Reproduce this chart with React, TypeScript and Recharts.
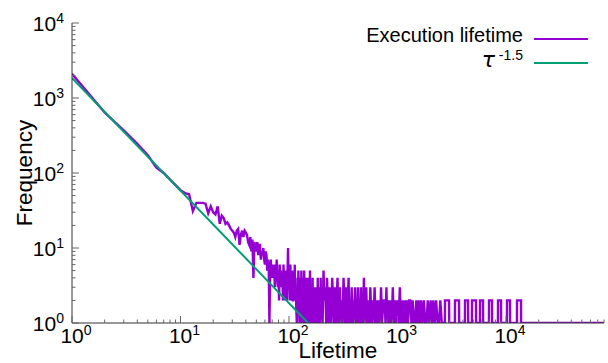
import React from 'react';
import { LineChart, Line, XAxis, YAxis } from 'recharts';

// ---- data: execution lifetime histogram (lifetime -> frequency) ----
const headLifetimes = [1, 2, 3, 4, 5, 6, 7, 8, 9, 10, 11, 12];
const headCounts = [2100, 640, 370, 245, 172, 118, 100, 82, 69, 59, 54, 52];

const midLifetimes = [
  13, 14, 15, 16, 17, 18, 19, 20, 21, 22, 23, 24, 25, 26, 27, 28, 29, 30, 31, 32,
  33, 34, 35, 36, 37, 38, 39, 40, 41, 42, 43, 44, 45, 46, 47, 48, 49, 50, 51, 52,
  53, 54, 55, 56, 57, 58, 59, 60, 61, 62, 63, 64, 65, 66, 67, 68, 69, 70, 71, 72,
  73, 74, 75, 76, 77, 78, 79, 80, 81, 82, 83, 84, 85, 86, 87, 88, 89, 90, 91, 92,
  93, 94, 95, 96, 97, 98, 99, 100,
];
const midCounts = [
  31, 40, 40, 40, 39, 29, 36, 30, 28, 36, 21, 27, 25, 21, 22, 20, 18, 17, 16, 14,
  17, 18, 11, 15, 17, 14, 17, 16, 15, 12, 11, 14, 9, 13, 4, 12, 10, 9, 12, 8,
  11, 11, 7, 9, 8, 10, 7, 6, 9, 8, 5, 7, 6, 1, 5, 7, 4, 6, 5, 4,
  6, 3, 5, 4, 7, 4, 3, 5, 2, 6, 4, 3, 5, 3, 4, 2, 6, 3, 4, 2,
  5, 3, 4, 2, 5, 10, 4, 3,
];

const tailLifetimes = [
  101, 102, 103, 104, 105, 106, 107, 108, 109, 110, 111, 112, 113, 114, 115, 116, 118,
  119, 120, 121, 122, 123, 124, 125, 126, 127, 128, 129, 130, 131, 132, 133, 134, 135,
  136, 137, 138, 139, 140, 141, 142, 143, 144, 145, 146, 147, 148, 149, 150, 152, 153,
  155, 156, 158, 159, 161, 162, 164, 165, 167, 168, 170, 171, 173, 175, 176, 178, 179,
  181, 182, 184, 185, 187, 188, 190, 191, 193, 194, 196, 197, 199, 200,
  204, 208, 212, 216, 220, 224, 228, 232, 236, 240, 245, 250, 255, 260, 265, 270, 275,
  280, 285, 290, 295, 300, 306, 312, 318, 324, 330, 336, 342, 348, 354, 360, 366, 372,
  378, 384, 390, 396, 402, 408, 414, 420, 427, 434, 441, 448, 455, 462, 469, 476, 483,
  490, 497,
  505, 515, 525, 537, 550, 562, 575, 588, 600, 615, 630, 645, 660, 675, 690, 705, 720,
  740, 760, 775, 790, 805, 825, 845, 865, 885, 905, 925, 950, 975, 1000, 1025, 1050,
  1075, 1100,
];
const tailCounts = [
  4, 2, 6, 2, 3, 2, 5, 2, 2, 3, 4, 2, 6, 2, 3, 2, 1,
  2, 4, 2, 5, 2, 2, 1, 4, 2, 3, 1, 5, 2, 2, 1, 4, 2,
  3, 1, 5, 2, 2, 1, 3, 1, 4, 2, 3, 1, 2, 1, 4, 1, 2,
  1, 5, 1, 3, 1, 2, 1, 4, 1, 2, 1, 3, 1, 2, 1, 3, 1,
  2, 1, 4, 1, 1, 2, 3, 1, 2, 1, 4, 1, 2, 1,
  1, 5, 2, 3, 1, 4, 2, 1, 3, 2, 1, 4, 2, 1, 3, 1, 2,
  4, 1, 2, 3, 1, 2, 1, 4, 2, 1, 3, 1, 2, 4, 1, 2, 1,
  3, 1, 2, 1, 2, 3, 1, 2, 1, 3, 1, 2, 1, 3, 1, 2, 1,
  4, 1,
  2, 3, 1, 2, 1, 3, 1, 2, 1, 3, 1, 2, 1, 2, 1, 3, 1,
  2, 2, 1, 3, 1, 2, 1, 2, 1, 3, 1, 2, 1, 2, 1, 3,
  1, 2,
];

const sparseLifetimes = [
  1130, 1160, 1190, 1220, 1250, 1280, 1310, 1345, 1380, 1415, 1450, 1490, 1530, 1570,
  1610, 1650, 1700, 1750, 1800, 1850, 1900, 1960, 2020, 2080, 2140, 2200, 2270, 2340,
  2410, 2480, 2560, 2640,
];
const sparseCounts = [
  1, 2, 1, 2, 1, 2, 2, 1, 2, 1, 1, 2, 1, 2,
  1, 2, 1, 2, 1, 1, 2, 1, 2, 1, 2, 1, 2, 1,
  1, 2, 1, 1,
];

const farLifetimes = [
  2730, 2740, 2984, 2995, 3380, 3388, 3688, 3700, 4180, 4190, 4465, 4480,
  4850, 4861, 5290, 5300, 5750, 5760, 6138, 6150, 6960, 6972, 7430, 7440,
  8430, 8440, 8995, 9010, 10200, 10215, 10886, 10900, 12610, 12630, 13750, 13770,
  80000,
];
const farCounts = [
  1, 2, 2, 1, 1, 2, 2, 1, 1, 2, 2, 1,
  1, 2, 2, 1, 1, 2, 2, 1, 1, 2, 2, 1,
  1, 2, 2, 1, 1, 2, 2, 1, 1, 2, 2, 1,
  1,
];

// fitted power law tau^-1.5 (straight line in log-log space)
const fitLifetimes = [1, 150];
const fitValues = [1850, 1.0];

// ---- ticks ----
const xDecades = [1, 10, 100, 1000, 10000];
const yDecades = [1, 10, 100, 1000, 10000];
const minorSteps = [1, 2, 3, 4, 5, 6, 7, 8, 9];
const xMax = 80000;
const yMax = 10000;

const xTicks: number[] = [];
xDecades.forEach((d) => minorSteps.forEach((m) => { if (d * m <= xMax) xTicks.push(d * m); }));
const yTicks: number[] = [];
yDecades.forEach((d) => minorSteps.forEach((m) => { if (d * m <= yMax) yTicks.push(d * m); }));

const zip = (xs: number[], ys: number[]) => xs.map((x, i) => ({ x, y: ys[i] }));
const purpleData = [
  ...zip(headLifetimes, headCounts),
  ...zip(midLifetimes, midCounts),
  ...zip(tailLifetimes, tailCounts),
  ...zip(sparseLifetimes, sparseCounts),
  ...zip(farLifetimes, farCounts),
];
const greenData = zip(fitLifetimes, fitValues);

const FONT = '"Liberation Sans", Arial, Helvetica, sans-serif';
const AX = '#333';
const TICKC = '#666';

const isMajor = (v: number, decades: number[]) => decades.includes(v);
const expOf = (v: number) => Math.round(Math.log10(v));

const BottomTick = (props: any) => {
  const { x, y, payload } = props;
  const v = payload.value;
  const major = isMajor(v, xDecades);
  return (
    <g>
      <line x1={x} y1={y} x2={x} y2={y - (major ? 7 : 3.5)} stroke={TICKC} strokeWidth={1} />
      {major && (
        <text x={x + 4} y={y + 20} textAnchor="middle" fontFamily={FONT} fontSize={21} fill="#000">
          <tspan>10</tspan>
          <tspan fontSize={14} dy={-8}>{expOf(v)}</tspan>
        </text>
      )}
    </g>
  );
};

const TopTick = (props: any) => {
  const { x, y, payload } = props;
  const major = isMajor(payload.value, xDecades);
  return <line x1={x} y1={y} x2={x} y2={y + (major ? 7 : 3.5)} stroke={TICKC} strokeWidth={1} />;
};

const LeftTick = (props: any) => {
  const { x, y, payload } = props;
  const v = payload.value;
  const major = isMajor(v, yDecades);
  return (
    <g>
      <line x1={x} y1={y} x2={x + (major ? 7 : 3.5)} y2={y} stroke={TICKC} strokeWidth={1} />
      {major && (
        <text x={x - 8} y={y + 7.5} textAnchor="end" fontFamily={FONT} fontSize={21} fill="#000">
          <tspan>10</tspan>
          <tspan fontSize={14} dy={-8}>{expOf(v)}</tspan>
        </text>
      )}
    </g>
  );
};

const RightTick = (props: any) => {
  const { x, y, payload } = props;
  const major = isMajor(payload.value, yDecades);
  return <line x1={x} y1={y} x2={x - (major ? 7 : 3.5)} y2={y} stroke={TICKC} strokeWidth={1} />;
};

export default function App() {
  return (
    <div style={{ position: 'absolute', left: 0, top: 0, width: 608, height: 363, background: '#fff' }}>
      <LineChart width={608} height={363} margin={{ top: 23, right: 4, bottom: 0, left: 0 }}>
        <XAxis
          xAxisId="b" orientation="bottom" type="number" dataKey="x" scale="log"
          domain={[1, xMax]} allowDataOverflow ticks={xTicks} interval={0}
          tick={BottomTick} tickLine={false} tickSize={0} tickMargin={0} height={40}
          axisLine={{ stroke: AX, strokeWidth: 1 }}
        />
        <XAxis
          xAxisId="t" orientation="top" type="number" dataKey="x" scale="log"
          domain={[1, xMax]} allowDataOverflow ticks={xTicks} interval={0}
          tick={TopTick} tickLine={false} tickSize={0} tickMargin={0} height={0}
          axisLine={{ stroke: AX, strokeWidth: 1 }}
        />
        <YAxis
          yAxisId="l" orientation="left" type="number" scale="log"
          domain={[1, yMax]} allowDataOverflow ticks={yTicks} interval={0}
          tick={LeftTick} tickLine={false} tickSize={0} tickMargin={0} width={72}
          axisLine={{ stroke: AX, strokeWidth: 1 }}
        />
        <YAxis
          yAxisId="r" orientation="right" type="number" scale="log"
          domain={[1, yMax]} allowDataOverflow ticks={yTicks} interval={0}
          tick={RightTick} tickLine={false} tickSize={0} tickMargin={0} width={0}
          axisLine={{ stroke: AX, strokeWidth: 1 }}
        />
        <Line
          xAxisId="b" yAxisId="l" data={purpleData} dataKey="y" type="linear"
          stroke="#9400d3" strokeWidth={2.4} dot={false} isAnimationActive={false}
        />
        <Line
          xAxisId="b" yAxisId="l" data={greenData} dataKey="y" type="linear"
          stroke="#009e73" strokeWidth={2} dot={false} isAnimationActive={false}
        />
        <Line
          xAxisId="t" yAxisId="r" data={greenData} dataKey="y" type="linear"
          stroke="none" strokeWidth={0} dot={false} isAnimationActive={false}
        />
      </LineChart>
      <svg width={608} height={363} style={{ position: 'absolute', left: 0, top: 0, pointerEvents: 'none' }}>
        <text x={523} y={42} textAnchor="end" fontFamily={FONT} fontSize={20} fill="#000">Execution lifetime</text>
        <line x1={534} y1={39} x2={588} y2={39} stroke="#9400d3" strokeWidth={2} />
        <text x={523} y={67} textAnchor="end" fontFamily={FONT} fontSize={20} fill="#000">
          <tspan fontStyle="italic" fontSize={22} fontFamily='"DejaVu Sans", sans-serif'>τ</tspan>
          <tspan fontSize={14} dy={-7}> -1.5</tspan>
        </text>
        <line x1={534} y1={63} x2={588} y2={63} stroke="#009e73" strokeWidth={2} />
        <text x={338} y={358} textAnchor="middle" fontFamily={FONT} fontSize={22.5} fill="#000">Lifetime</text>
        <text x={32} y={173} transform="rotate(-90 32 173)" textAnchor="middle" fontFamily={FONT} fontSize={22.5} fill="#000">Frequency</text>
      </svg>
    </div>
  );
}
